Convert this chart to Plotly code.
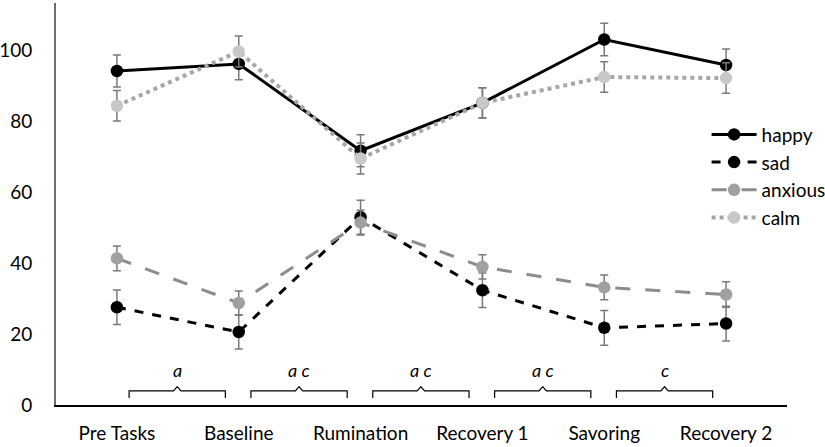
import plotly.graph_objects as go

categories = ["Pre Tasks", "Baseline", "Rumination", "Recovery 1", "Savoring", "Recovery 2"]
happy = [94.3, 96.3, 71.8, 85.3, 103.2, 96.0]
happy_err = [4.5, 4.5, 4.5, 4.3, 4.6, 4.5]
sad = [27.6, 20.6, 53.0, 32.4, 21.8, 23.0]
sad_err = [4.9, 4.8, 4.8, 4.9, 4.9, 4.9]
anxious = [41.4, 28.8, 51.5, 39.0, 33.2, 31.2]
anxious_err = [3.5, 3.4, 3.5, 3.4, 3.5, 3.6]
calm = [84.5, 99.8, 69.6, 85.3, 92.6, 92.3]
calm_err = [4.3, 4.4, 4.4, 4.3, 4.3, 4.3]
bracket_labels = ["a", "a c", "a c", "a c", "c"]

series = [
    ("happy", happy, happy_err, "#000000", "solid", 3),
    ("sad", sad, sad_err, "#000000", "dash", 3),
    ("anxious", anxious, anxious_err, "#8c8c8c", "longdash", 3),
    ("calm", calm, calm_err, "#a6a6a6", "dot", 4),
]
marker_colors = {"happy": "#000000", "sad": "#000000", "anxious": "#a0a0a0", "calm": "#c8c8c8"}

fig = go.Figure()
for name, vals, err, col, dash, w in series:
    fig.add_trace(go.Scatter(
        x=categories, y=vals, name=name, mode="lines+markers",
        line=dict(color=col, dash=dash, width=w),
        marker=dict(color=marker_colors[name], size=12.5),
        error_y=dict(type="data", array=err, color="#7a7a7a", thickness=1.5, width=4),
    ))

shapes = []
annotations = []
for i, lab in enumerate(bracket_labels):
    x0 = i + 0.1
    x1 = i + 0.89
    xm = (x0 + x1) / 2
    path = (f"M {x0},2 L {x0},4 L {xm - 0.03},4 L {xm},5.2 L {xm + 0.03},4 "
            f"L {x1},4 L {x1},2")
    shapes.append(dict(type="path", path=path, xref="x", yref="y",
                       line=dict(color="#000000", width=1.2)))
    annotations.append(dict(x=xm, y=10, xref="x", yref="y", text=f"<i>{lab}</i>",
                            showarrow=False, font=dict(size=18, color="#000000")))

fig.update_layout(
    width=825, height=447,
    margin=dict(l=56, r=38, t=3, b=42, autoexpand=False),
    paper_bgcolor="white", plot_bgcolor="white",
    font=dict(family="Lato, sans-serif", size=18, color="#000000"),
    showlegend=True,
    legend=dict(x=0.89, y=0.72, xanchor="left", yanchor="top",
                font=dict(size=19), tracegroupgap=0, itemwidth=45,
                bgcolor="rgba(0,0,0,0)"),
    shapes=shapes, annotations=annotations,
)
fig.update_xaxes(type="category", range=[-0.5, 5.5], showline=True, linecolor="#000000",
                 linewidth=2, showgrid=False, ticks="", ticklabelstandoff=10,
                 tickfont=dict(size=19))
fig.update_yaxes(range=[0, 113.5], tickvals=[0, 20, 40, 60, 80, 100], showline=True,
                 linecolor="#6e6e6e", linewidth=2, showgrid=False, zeroline=False,
                 ticks="", ticklabelstandoff=18, tickfont=dict(size=19))

fig.write_html("out.html", config={"displayModeBar": False},
               post_script="document.body.style.margin='0';")
